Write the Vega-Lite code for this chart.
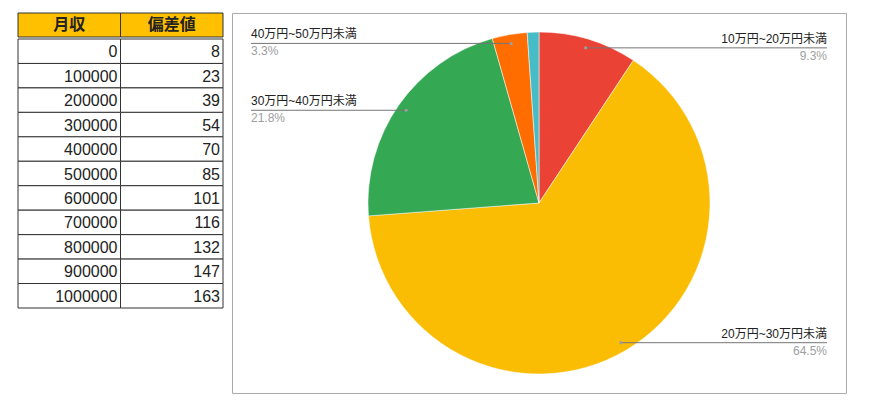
{
  "$schema": "https://vega.github.io/schema/vega-lite/v6.json",
  "background": "white",
  "padding": {"left": 17, "top": 12, "right": 0, "bottom": 0},
  "config": {
    "view": {"stroke": null},
    "font": "'Liberation Sans', 'Noto Sans CJK JP', sans-serif"
  },
  "datasets": {
    "table": [
      {"月収": 0, "偏差値": 8},
      {"月収": 100000, "偏差値": 23},
      {"月収": 200000, "偏差値": 39},
      {"月収": 300000, "偏差値": 54},
      {"月収": 400000, "偏差値": 70},
      {"月収": 500000, "偏差値": 85},
      {"月収": 600000, "偏差値": 101},
      {"月収": 700000, "偏差値": 116},
      {"月収": 800000, "偏差値": 132},
      {"月収": 900000, "偏差値": 147},
      {"月収": 1000000, "偏差値": 163}
    ],
    "header": [{"col": "月収"}, {"col": "偏差値"}],
    "pie": [
      {"category": "10万円~20万円未満", "share": 0.093},
      {"category": "20万円~30万円未満", "share": 0.645},
      {"category": "30万円~40万円未満", "share": 0.218},
      {"category": "40万円~50万円未満", "share": 0.033},
      {"category": "50万円以上", "share": 0.011}
    ]
  },
  "spacing": 7,
  "hconcat": [
    {
      "spacing": 0,
      "vconcat": [
        {
          "width": 205,
          "height": 24,
          "data": {"name": "header"},
          "encoding": {
            "x": {"field": "col", "type": "nominal", "sort": ["月収", "偏差値"], "axis": null, "scale": {"paddingInner": 0, "paddingOuter": 0}}
          },
          "layer": [
            {"mark": {"type": "rect", "fill": "#FFC000", "stroke": "#333333", "strokeWidth": 1}},
            {"mark": {"type": "text", "fontSize": 16, "fontWeight": "bold", "color": "#222222", "font": "'Noto Sans CJK JP', sans-serif", "baseline": "middle"}, "encoding": {"text": {"field": "col"}}}
          ]
        },
        {
          "width": 205,
          "height": 269,
          "data": {"name": "table"},
          "transform": [
            {"window": [{"op": "row_number", "as": "r"}]},
            {"fold": ["月収", "偏差値"], "as": ["key", "val"]}
          ],
          "encoding": {
            "y": {"field": "r", "type": "ordinal", "axis": null, "scale": {"paddingInner": 0, "paddingOuter": 0}}
          },
          "layer": [
            {
              "mark": {"type": "rect", "fill": "white", "stroke": "#333333", "strokeWidth": 1},
              "encoding": {"x": {"field": "key", "type": "nominal", "sort": ["月収", "偏差値"], "axis": null, "scale": {"paddingInner": 0, "paddingOuter": 0}}}
            },
            {
              "mark": {"type": "text", "align": "right", "baseline": "middle", "dx": -3, "dy": 1, "fontSize": 16, "color": "#222222"},
              "encoding": {
                "x": {"field": "key", "type": "nominal", "sort": ["月収", "偏差値"], "bandPosition": 1, "axis": null},
                "text": {"field": "val", "type": "quantitative", "format": "d"}
              }
            }
          ]
        }
      ]
    },
    {
      "width": 614,
      "height": 380,
      "view": {"stroke": "#aaaaaa", "strokeWidth": 1},
      "data": {"name": "pie"},
      "layer": [
        {
          "mark": {"type": "arc", "outerRadius": 171, "stroke": "white", "strokeWidth": 0.5},
          "encoding": {
            "theta": {"field": "share", "type": "quantitative", "stack": true},
            "color": {
              "field": "category", "type": "nominal", "legend": null,
              "scale": {
                "domain": ["10万円~20万円未満", "20万円~30万円未満", "30万円~40万円未満", "40万円~50万円未満", "50万円以上"],
                "range": ["#EA4335", "#FBBC04", "#34A853", "#FF6D01", "#46BDC6"]
              }
            }
          }
        },
        {
          "transform": [
            {"window": [{"op": "sum", "field": "share", "as": "cum"}], "sort": [{"field": "category"}], "frame": [null, 0]},
            {"filter": "datum.share > 0.02"},
            {"calculate": "(datum.cum - datum.share / 2) * 2 * PI", "as": "mid"},
            {"calculate": "162 * sin(datum.mid)", "as": "px"},
            {"calculate": "162 * cos(datum.mid)", "as": "py"},
            {"calculate": "datum.px > 0 ? 288 : -288", "as": "edge"},
            {"calculate": "datum.px > 0 ? 'right' : 'left'", "as": "side"}
          ],
          "encoding": {
            "y": {"field": "py", "type": "quantitative", "axis": null, "scale": {"domain": [-190, 190], "nice": false, "zero": false}}
          },
          "layer": [
            {
              "mark": {"type": "rule", "color": "#757575", "strokeWidth": 1},
              "encoding": {
                "x": {"field": "px", "type": "quantitative", "axis": null, "scale": {"domain": [-307, 307], "nice": false, "zero": false}},
                "x2": {"field": "edge"}
              }
            },
            {
              "mark": {"type": "point", "filled": true, "size": 10, "color": "#9e9e9e", "opacity": 1},
              "encoding": {
                "x": {"field": "px", "type": "quantitative"}
              }
            },
            {
              "transform": [{"filter": "datum.side == 'right'"}],
              "layer": [
                {
                  "mark": {"type": "text", "align": "right", "baseline": "bottom", "dy": -2, "fontSize": 12, "color": "#222222"},
                  "encoding": {"x": {"field": "edge", "type": "quantitative"}, "text": {"field": "category"}}
                },
                {
                  "mark": {"type": "text", "align": "right", "baseline": "top", "dy": 3, "fontSize": 12, "color": "#9e9e9e"},
                  "encoding": {"x": {"field": "edge", "type": "quantitative"}, "text": {"field": "share", "type": "quantitative", "format": ".1%"}}
                }
              ]
            },
            {
              "transform": [{"filter": "datum.side == 'left'"}],
              "layer": [
                {
                  "mark": {"type": "text", "align": "left", "baseline": "bottom", "dy": -2, "fontSize": 12, "color": "#222222"},
                  "encoding": {"x": {"field": "edge", "type": "quantitative"}, "text": {"field": "category"}}
                },
                {
                  "mark": {"type": "text", "align": "left", "baseline": "top", "dy": 3, "fontSize": 12, "color": "#9e9e9e"},
                  "encoding": {"x": {"field": "edge", "type": "quantitative"}, "text": {"field": "share", "type": "quantitative", "format": ".1%"}}
                }
              ]
            }
          ]
        }
      ]
    }
  ]
}
